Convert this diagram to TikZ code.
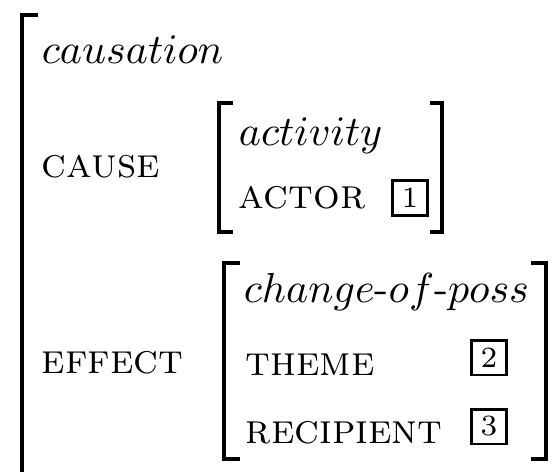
\documentclass[tikz,border=0pt]{standalone}
\begin{document}
\begin{tikzpicture}[x=0.238095pt,y=-0.238095pt,
  typ/.style={anchor=base west,inner sep=0pt,font=\normalsize},
  attr/.style={anchor=base west,inner sep=0pt,font=\normalsize\scshape},
  tag/.style={draw,line width=0.71pt,minimum size=8.33pt,inner sep=0pt,font=\scriptsize},
  brk/.style={line width=0.79pt},
  outerbrk/.style={line width=0.9pt}]
\useasboundingbox (0,0) rectangle (557,471);
% outer bracket (left side only visible)
\draw[outerbrk] (38,15) -- (22,15) -- (22,490);
% attributes of outer
\node[typ] (causation) at (41,63) {$causation$};
\node[attr] (cause) at (41,177) {cause};
\node[attr] (effect) at (41,373) {effect};
% inner AVM 1
\draw[brk] (233,103) -- (219,103) -- (219,232) -- (233,232);
\draw[brk] (430,103) -- (442,103) -- (442,232) -- (430,232);
\node[typ] (activity) at (238,145) {$activity$};
\node[attr] (actor) at (238,208) {actor};
\node[tag] (t1) at (410,198) {1};
% inner AVM 2
\draw[brk] (240,263) -- (224,263) -- (224,459) -- (240,459);
\draw[brk] (531,263) -- (546,263) -- (546,459) -- (531,459);
\node[typ] (cop) at (243,302) {$change$-$of$-$poss$};
\node[attr] (theme) at (245,375) {theme};
\node[attr] (recipient) at (245,443) {recipient};
\node[tag] (t2) at (489,357.5) {2};
\node[tag] (t3) at (489,426.5) {3};
\end{tikzpicture}
\end{document}
